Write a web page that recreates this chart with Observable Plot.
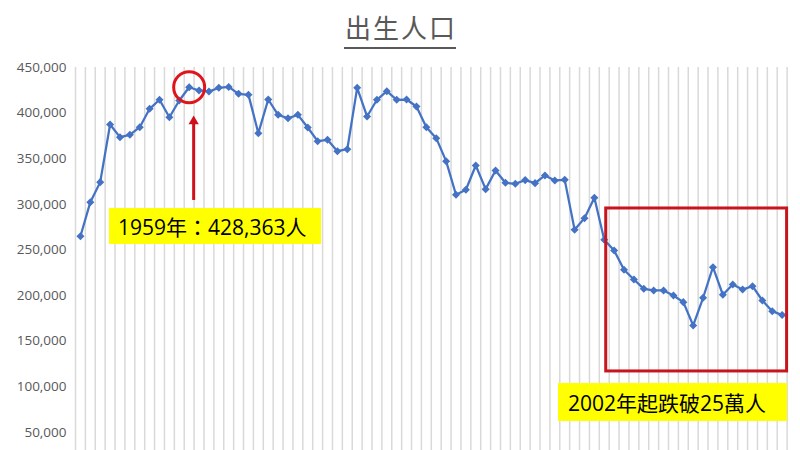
<!DOCTYPE html>
<html>
<head>
<meta charset="utf-8">
<script src="https://cdn.jsdelivr.net/npm/d3@7"></script>
<script src="https://cdn.jsdelivr.net/npm/@observablehq/plot@0.6"></script>
<style>
  body { margin: 0; background: #fff; }
  #wrap { position: relative; width: 800px; height: 450px; overflow: hidden; background: #fff; }
  #title { position: absolute; left: 300px; width: 200px; top: 10px; text-align: center; white-space: nowrap;
           font-family: "Noto Sans CJK TC", sans-serif; font-size: 26px; color: #595959; letter-spacing: 2px; text-indent: 2px; line-height: 34px; }
  #uline { position: absolute; left: 344px; top: 47px; width: 112px; height: 2px; background: #595959; }
  .note { position: absolute; background: #ffff00; color: #000; font-family: "Open Sans", "Noto Sans CJK TC", sans-serif;
          font-size: 21px; white-space: nowrap; display: flex; align-items: center; box-sizing: border-box; }
  #chart { position: absolute; left: 0; top: 0; }
</style>
</head>
<body>
<div id="wrap">
  <div id="chart"></div>
  <div id="title"></div>
  <div id="uline"></div>
  <div id="note1" class="note" style="left:109px;top:208px;width:212px;height:36px;padding-left:9px;"></div>
  <div id="note2" class="note" style="left:558px;top:383px;width:229px;height:38px;padding-left:10px;"></div>
</div>
<script>
const titleText = "出生人口";
const years = d3.range(1948, 2020);
const births = [
  265000, 302300, 324300, 387500, 373600, 376200, 384500, 404700, 414600, 395500,
  413800, 428363, 424800, 423700, 427700, 428700, 421100, 420000, 378000, 414900,
  398100, 394400, 398100, 384200, 369200, 370700, 358200, 360400, 427700, 396300,
  414600, 424000, 414600, 414900, 407200, 384500, 372500, 347300, 310400, 315900,
  342500, 316600, 337100, 323600, 322500, 326500, 323200, 331600, 326100, 326800,
  272000, 284800, 307100, 261100, 249300, 228200, 217500, 207300, 205500, 205500,
  200000, 192700, 167100, 197500, 231000, 200800, 212100, 206600, 210200, 194500,
  182800, 178500
];
const yTicks = [50000, 100000, 150000, 200000, 250000, 300000, 350000, 400000, 450000];
const peakYear = 1959;
const peakValue = 428363;
const note1Text = "1959年：428,363人";
const note2Text = "2002年起跌破25萬人";
// highlighted period box (years / values)
const boxYears = [2001.2, 2019.5];
const boxValues = [116700, 295400];
const arrowValues = [304200, 389000, 391000];

const data = years.map((year, i) => ({year, births: births[i]}));
const boundaries = d3.range(years[0] - 0.5, years[years.length - 1] + 1, 1);

document.getElementById("title").textContent = titleText;
document.getElementById("note1").textContent = note1Text;
document.getElementById("note2").textContent = note2Text;

const chart = Plot.plot({
  width: 800,
  height: 450,
  marginTop: 67,
  marginBottom: 0,
  marginLeft: 75,
  marginRight: 13.4,
  style: { background: "transparent", color: "#595959", fontFamily: "'Open Sans', sans-serif", fontSize: "13.5px" },
  x: { domain: [years[0] - 0.5, years[years.length - 1] + 0.5], axis: null },
  y: { domain: [30000, 450000], label: null, ticks: yTicks, tickFormat: d3.format(","), tickSize: 0, tickPadding: 9 },
  marks: [
    Plot.ruleX(boundaries, { stroke: "#d9d9d9", strokeWidth: 1.5 }),
    Plot.line(data, { x: "year", y: "births", stroke: "#4472c4", strokeWidth: 2.25 }),
    Plot.dot(data, { x: "year", y: "births", symbol: "square", rotate: 45, r: 3.2, fill: "#4472c4", stroke: "none" }),
    Plot.dot([{year: peakYear, births: peakValue}], { x: "year", y: "births", r: 15.5, stroke: "#e0151b", strokeWidth: 3, fill: "none" }),
    Plot.ruleX([peakYear], { y1: arrowValues[0], y2: arrowValues[1], stroke: "#d0101a", strokeWidth: 3, dx: 4.5 }),
    Plot.dot([{year: peakYear, v: arrowValues[2]}], { x: "year", y: "v", symbol: "triangle", r: 3.8, fill: "#d0101a", stroke: "none", dx: 4.5 }),
    Plot.rect([{x1: boxYears[0], x2: boxYears[1], y1: boxValues[0], y2: boxValues[1]}],
      { x1: "x1", x2: "x2", y1: "y1", y2: "y2", stroke: "#c8141c", strokeWidth: 3, fill: "none" })
  ]
});
document.getElementById("chart").appendChild(chart);
</script>
</body>
</html>
